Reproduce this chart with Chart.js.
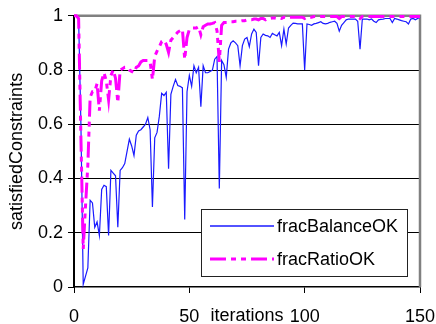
<!DOCTYPE html>
<html>
<head>
<meta charset="utf-8">
<script src="https://cdn.jsdelivr.net/npm/chart.js@4"></script>
<style>
html,body{margin:0;padding:0;background:#fff;}
#wrap{width:436px;height:324px;position:relative;}
</style>
</head>
<body>
<div id="wrap"><canvas id="c" width="436" height="324"></canvas></div>
<script>
// iteration index (x categories)
const iterations = Array.from({length: 151}, (_, i) => i);
const xTicks = [0, 50, 100, 150];
const yTicks = [0, 0.2, 0.4, 0.6, 0.8, 1];
const seriesNames = ["fracBalanceOK", "fracRatioOK"];
const axisTitles = {x: "iterations", y: "satisfiedConstraints"};

const fracBalanceOK = [
 1.0, 1.0, 0.99, 0.6, 0.01, 0.04, 0.07, 0.32, 0.31, 0.22,
 0.24, 0.19, 0.36, 0.375, 0.37, 0.19, 0.43, 0.42, 0.41, 0.22,
 0.43, 0.44, 0.455, 0.5, 0.545, 0.52, 0.485, 0.56, 0.575, 0.58,
 0.59, 0.6, 0.625, 0.58, 0.295, 0.55, 0.57, 0.63, 0.714, 0.706,
 0.718, 0.436, 0.71, 0.74, 0.765, 0.743, 0.74, 0.734, 0.249, 0.72,
 0.78, 0.74, 0.816, 0.79, 0.81, 0.665, 0.816, 0.79, 0.79, 0.795,
 0.8, 0.84, 0.85, 0.363, 0.835, 0.82, 0.773, 0.877, 0.9, 0.908,
 0.9, 0.89, 0.816, 0.89, 0.914, 0.92, 0.886, 0.933, 0.951, 0.939,
 0.816, 0.92, 0.933, 0.928, 0.926, 0.92, 0.935, 0.93, 0.926, 0.939,
 0.89, 0.951, 0.896, 0.955, 0.965, 0.973, 0.972, 0.97, 0.97, 0.97,
 0.8, 0.97, 0.968, 0.965, 0.97, 0.972, 0.975, 0.978, 0.972, 0.97,
 0.972, 0.976, 0.978, 0.98, 0.972, 0.943, 0.965, 0.975, 0.985, 0.988,
 0.988, 0.988, 0.988, 0.98, 0.877, 0.988, 0.988, 0.988, 0.985, 0.988,
 0.98, 0.975, 0.985, 0.987, 0.988, 0.99, 0.99, 0.99, 0.975, 0.99,
 0.988, 0.985, 0.982, 0.98, 0.978, 0.97, 0.988, 0.99, 0.985, 0.99,
 0.995
];

const fracRatioOK = [
 1.0, 1.0, 0.99, 0.55, 0.14, 0.3, 0.45, 0.7, 0.72, 0.72,
 0.75, 0.65, 0.76, 0.79, 0.76, 0.69, 0.78, 0.8, 0.77, 0.68,
 0.8, 0.805, 0.81, 0.81, 0.8, 0.795, 0.79, 0.81, 0.815, 0.83,
 0.835, 0.835, 0.835, 0.83, 0.765, 0.85, 0.87, 0.885, 0.905, 0.91,
 0.895, 0.865, 0.91, 0.92, 0.93, 0.94, 0.945, 0.95, 0.84, 0.92,
 0.95, 0.955, 0.955, 0.955, 0.96, 0.93, 0.96, 0.965, 0.97, 0.97,
 0.972, 0.975, 0.945, 0.83, 0.965, 0.975, 0.975, 0.975, 0.978, 0.978,
 0.98, 0.98, 0.98, 0.982, 0.982, 0.985, 0.985, 0.985, 0.988, 0.988,
 0.985, 0.99, 0.99, 0.985, 0.99, 0.99, 0.992, 0.992, 0.99, 0.992,
 0.99, 0.995, 0.992, 0.995, 0.995, 0.995, 0.995, 0.995, 0.995, 0.995,
 0.99, 0.995, 0.995, 0.995, 0.997, 0.997, 0.997, 0.997, 0.997, 0.997,
 0.997, 0.997, 0.997, 0.997, 0.997, 0.99, 0.997, 0.997, 0.997, 0.997,
 0.997, 0.997, 0.997, 0.997, 0.99, 0.997, 0.997, 0.997, 0.997, 0.997,
 0.997, 0.997, 0.997, 0.997, 0.997, 0.997, 0.997, 0.997, 0.997, 0.997,
 0.997, 0.997, 0.997, 0.997, 0.997, 0.997, 0.997, 0.997, 0.997, 0.997,
 0.997
];

const FONT = "'Liberation Sans', Arial, sans-serif";
const BLUE = '#1a1aff';
const MAGENTA = '#ff00ff';
const RATIO_DASH = [16, 5, 5, 5, 5, 5];

const framePlugin = {
  id: 'frame',
  beforeDatasetsDraw(chart) {
    const {ctx, chartArea: a} = chart;
    ctx.save();
    ctx.strokeStyle = '#808080';
    ctx.lineWidth = 2.5;
    ctx.beginPath();
    ctx.moveTo(a.left, a.top);
    ctx.lineTo(a.right, a.top);
    ctx.lineTo(a.right, a.bottom);
    ctx.stroke();
    ctx.restore();
  },
  afterDraw(chart) {
    const {ctx, chartArea: a} = chart;
    ctx.save();
    // x axis title, on the tick label line
    ctx.font = '18px ' + FONT;
    ctx.fillStyle = '#000';
    ctx.textAlign = 'center';
    ctx.textBaseline = 'middle';
    const xs = chart.scales.x;
    const midX = (xs.getPixelForValue(50) + xs.getPixelForValue(100)) / 2;
    ctx.fillText(axisTitles.x, midX, 316);
    // legend box
    const bx = 201, by = 209, bw = 206, bh = 67;
    ctx.fillStyle = '#fff';
    ctx.fillRect(bx, by, bw, bh);
    ctx.strokeStyle = '#222';
    ctx.lineWidth = 1;
    ctx.strokeRect(bx + 0.5, by + 0.5, bw, bh);
    const rows = [
      {name: seriesNames[0], color: BLUE, width: 1.3, dash: [], y: 226},
      {name: seriesNames[1], color: MAGENTA, width: 3, dash: RATIO_DASH, y: 259}
    ];
    rows.forEach(r => {
      ctx.strokeStyle = r.color;
      ctx.lineWidth = r.width;
      ctx.setLineDash(r.dash);
      ctx.beginPath();
      ctx.moveTo(210, r.y);
      ctx.lineTo(274, r.y);
      ctx.stroke();
      ctx.setLineDash([]);
      ctx.fillStyle = '#000';
      ctx.textAlign = 'left';
      ctx.textBaseline = 'middle';
      ctx.fillText(r.name, 277, r.y + 1);
    });
    ctx.restore();
  }
};

new Chart(document.getElementById('c'), {
  type: 'line',
  data: {
    labels: iterations,
    datasets: [
      {
        label: seriesNames[1],
        data: fracRatioOK,
        borderColor: MAGENTA,
        borderWidth: 3,
        borderDash: RATIO_DASH,
        pointRadius: 0,
        tension: 0,
        fill: false,
        clip: 4
      },
      {
        label: seriesNames[0],
        data: fracBalanceOK,
        borderColor: BLUE,
        borderWidth: 1.2,
        pointRadius: 0,
        tension: 0,
        fill: false,
        clip: 4
      }
    ]
  },
  options: {
    responsive: false,
    animation: false,
    devicePixelRatio: 1,
    layout: {padding: {top: 15, right: 0, left: 0, bottom: 0}},
    plugins: {legend: {display: false}, tooltip: {enabled: false}},
    scales: {
      x: {
        type: 'linear',
        min: 0, max: 150,
        afterFit(s) { s.height = 37; s.paddingRight = 16; s.paddingLeft = 0; },
        afterBuildTicks(s) { s.ticks = xTicks.map(v => ({value: v})); },
        grid: {drawOnChartArea: false, drawTicks: true, tickLength: 6, tickColor: '#000', color: '#000'},
        border: {display: true, color: '#000', width: 1.5},
        ticks: {color: '#000', font: {family: FONT, size: 18}, padding: 13, maxRotation: 0, autoSkip: false}
      },
      y: {
        min: 0, max: 1,
        afterFit(s) { s.width = 74; },
        afterBuildTicks(s) { s.ticks = yTicks.map(v => ({value: v})); },
        grid: {
          drawTicks: true, tickLength: 6, tickColor: '#000',
          color: c => (c.tick && (c.tick.value === 1 || c.tick.value === 0)) ? 'rgba(0,0,0,0)' : '#000',
          lineWidth: 1
        },
        border: {display: true, color: '#000', width: 2},
        ticks: {color: '#000', font: {family: FONT, size: 18}, padding: 5,
                callback: v => String(Math.round(v * 10) / 10)},
        title: {display: true, text: axisTitles.y, color: '#000', font: {family: FONT, size: 18}, padding: {top: 6, bottom: 0}}
      }
    }
  },
  plugins: [framePlugin]
});
</script>
</body>
</html>
